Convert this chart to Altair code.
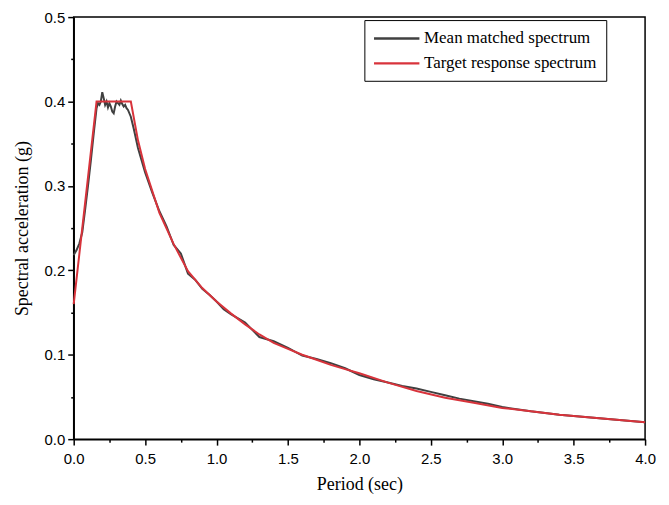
import altair as alt
import pandas as pd

# Target response spectrum (red)
target_T = [0.0, 0.16, 0.40, 0.45, 0.50, 0.60, 0.70, 0.80, 0.90, 1.00, 1.10, 1.20,
            1.30, 1.40, 1.50, 1.60, 1.70, 1.80, 1.90, 2.00, 2.20, 2.40, 2.60, 2.80,
            3.00, 3.20, 3.40, 3.60, 3.80, 4.00]
target_Sa = [0.160, 0.400, 0.400, 0.354, 0.320, 0.268, 0.231, 0.199, 0.179, 0.163, 0.149, 0.136,
             0.124, 0.114, 0.107, 0.100, 0.094, 0.088, 0.083, 0.078, 0.067, 0.057, 0.049, 0.043,
             0.037, 0.033, 0.029, 0.026, 0.023, 0.020]

# Mean matched spectrum (dark grey)
mean_T = [0.0, 0.02, 0.04, 0.06, 0.08, 0.10, 0.12, 0.14, 0.16, 0.17, 0.18, 0.19, 0.20,
          0.21, 0.22, 0.23, 0.24, 0.25, 0.26, 0.27, 0.28, 0.29, 0.30, 0.31, 0.32, 0.33,
          0.34, 0.35, 0.36, 0.37, 0.38, 0.40, 0.42, 0.45, 0.50, 0.55, 0.60, 0.65, 0.70,
          0.75, 0.80, 0.85, 0.90, 0.95, 1.00, 1.05, 1.10, 1.20, 1.30, 1.40, 1.50, 1.60,
          1.70, 1.80, 1.90, 2.00, 2.10, 2.20, 2.30, 2.40, 2.50, 2.60, 2.70, 2.80, 2.90,
          3.00, 3.20, 3.40, 3.60, 3.80, 4.00]
mean_Sa = [0.218, 0.224, 0.232, 0.245, 0.272, 0.300, 0.330, 0.362, 0.392, 0.398, 0.396, 0.400, 0.411,
           0.404, 0.396, 0.400, 0.393, 0.398, 0.394, 0.388, 0.386, 0.394, 0.400, 0.398, 0.396, 0.401,
           0.397, 0.394, 0.396, 0.392, 0.390, 0.382, 0.368, 0.345, 0.316, 0.292, 0.270, 0.252, 0.230,
           0.220, 0.196, 0.189, 0.178, 0.171, 0.163, 0.154, 0.148, 0.138, 0.121, 0.116, 0.108, 0.099,
           0.095, 0.090, 0.084, 0.076, 0.071, 0.067, 0.063, 0.060, 0.056, 0.052, 0.048, 0.045, 0.042,
           0.038, 0.033, 0.029, 0.026, 0.023, 0.020]

series_names = ["Mean matched spectrum", "Target response spectrum"]
series_colors = ["#404040", "#d8333b"]

# major + minor tick positions (minor ticks carry no label)
x_ticks = [0.0, 0.25, 0.5, 0.75, 1.0, 1.25, 1.5, 1.75, 2.0, 2.25, 2.5, 2.75,
           3.0, 3.25, 3.5, 3.75, 4.0]
y_ticks = [0.0, 0.05, 0.1, 0.15, 0.2, 0.25, 0.3, 0.35, 0.4, 0.45, 0.5]

df_mean = pd.DataFrame({"T": mean_T, "Sa": mean_Sa, "series": series_names[0]})
df_target = pd.DataFrame({"T": target_T, "Sa": target_Sa, "series": series_names[1]})

xs = alt.Scale(domain=[0, 4], nice=False, zero=False)
ys = alt.Scale(domain=[0, 0.5], nice=False, zero=False)

sans = "Liberation Sans"
serif = "Liberation Serif"

x_major_test = "round(datum.value * 4) % 2 == 0"
y_major_test = "round(datum.value * 20) % 2 == 0"

x_axis = alt.Axis(values=x_ticks, title="Period (sec)", orient="bottom",
                  labelExpr=f"({x_major_test}) ? format(datum.value, '.1f') : ''",
                  grid=False,
                  tickSize={"condition": {"test": x_major_test, "value": 6}, "value": 3},
                  tickColor="black", domainColor="black", tickWidth=1.5, domainWidth=1.5,
                  labelFont=sans, labelFontSize=15, labelColor="black", labelPadding=6,
                  titleFont=serif, titleFontSize=18, titleFontWeight="normal",
                  titleColor="black", titlePadding=10, labelFlush=False, labelOverlap=False)
y_axis = alt.Axis(values=y_ticks, title="Spectral acceleration (g)", orient="left",
                  labelExpr=f"({y_major_test}) ? format(datum.value, '.1f') : ''",
                  grid=False,
                  tickSize={"condition": {"test": y_major_test, "value": 6}, "value": 3},
                  tickColor="black", domainColor="black", tickWidth=1.5, domainWidth=1.5,
                  labelFont=sans, labelFontSize=15, labelColor="black", labelPadding=3,
                  titleFont=serif, titleFontSize=18, titleFontWeight="normal",
                  titleColor="black", titlePadding=13, labelFlush=False, labelOverlap=False)

color = alt.Color("series:N",
                  scale=alt.Scale(domain=series_names, range=series_colors),
                  legend=alt.Legend(title=None, orient="none", legendX=292, legendY=3,
                                    symbolType="M-2.85,0H2.85", symbolSize=256,
                                    symbolStrokeWidth=2.5, symbolOffset=14,
                                    labelFont=serif, labelFontSize=17, labelColor="black",
                                    labelLimit=400, labelOffset=18,
                                    strokeColor="black", padding=9, rowPadding=7,
                                    fillColor="white"))

mean_line = alt.Chart(df_mean).mark_line(strokeWidth=2).encode(
    x=alt.X("T:Q", scale=xs, axis=x_axis),
    y=alt.Y("Sa:Q", scale=ys, axis=y_axis),
    color=color,
)
target_line = alt.Chart(df_target).mark_line(strokeWidth=2).encode(
    x=alt.X("T:Q", scale=xs, axis=x_axis),
    y=alt.Y("Sa:Q", scale=ys, axis=y_axis),
    color=color,
)

chart = alt.layer(mean_line, target_line).properties(
    width=574, height=424,
    padding={"left": 5, "top": 1, "right": 5, "bottom": 5},
    background="white",
).configure_view(
    stroke="black", strokeWidth=1.5
)

chart.save("out.html", embed_options={"renderer": "svg", "actions": False})
